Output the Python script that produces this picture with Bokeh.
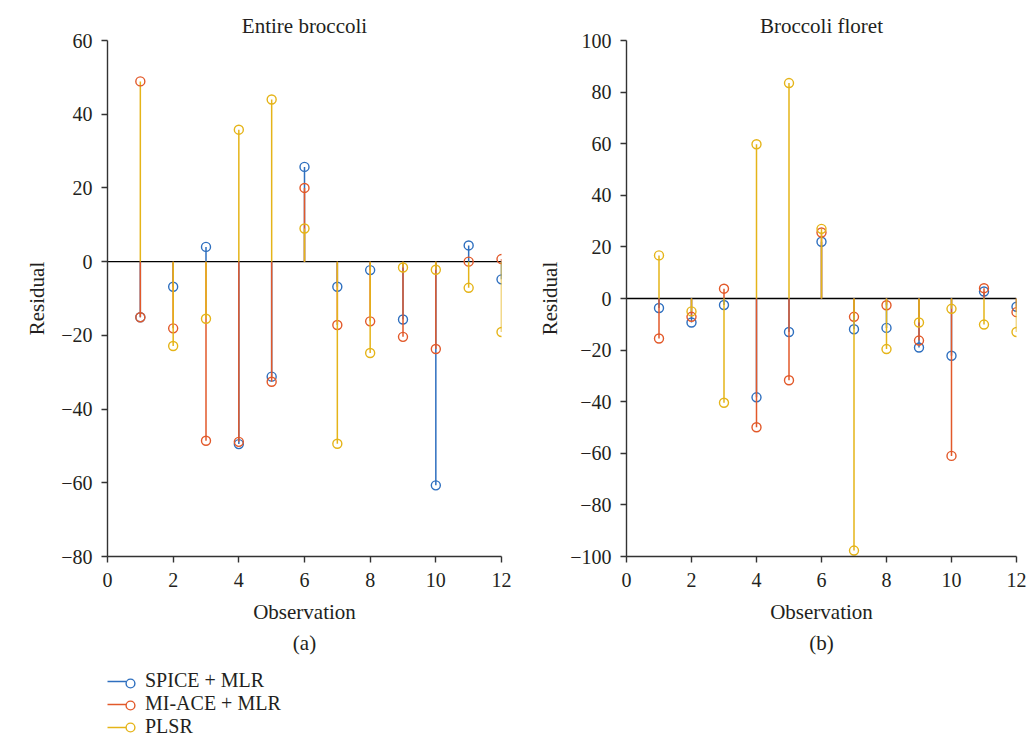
from bokeh.plotting import figure
from bokeh.layouts import row, column
from bokeh.models import Span, Legend, LegendItem, Title, FixedTicker, Range1d
from bokeh.embed import file_html
from bokeh.resources import INLINE

# ---------------- data ----------------
observations = [1, 2, 3, 4, 5, 6, 7, 8, 9, 10, 11, 12]
series_names = ["SPICE + MLR", "MI-ACE + MLR", "PLSR"]

# (a) Entire broccoli
a_spice = [-15.1, -6.8, 4.0, -49.5, -31.2, 25.7, -6.8, -2.3, -15.7, -60.7, 4.4, -4.8]
a_miace = [-15.1, -18.1, -48.6, -48.9, -32.6, 20.0, -17.2, -16.2, -20.4, -23.7, 0.0, 0.7]
a_plsr = [48.9, -22.9, -15.5, 35.8, 44.0, 9.0, -49.4, -24.8, -1.6, -2.2, -7.1, -19.1]

# (b) Broccoli floret
b_spice = [-3.7, -9.3, -2.5, -38.3, -13.0, 22.0, -11.9, -11.4, -19.0, -22.2, 2.7, -3.2]
b_miace = [-15.5, -7.1, 3.8, -49.9, -31.7, 25.6, -7.1, -2.6, -16.3, -61.0, 4.0, -5.3]
b_plsr = [16.7, -5.0, -40.4, 59.8, 83.5, 27.0, -97.7, -19.6, -9.3, -4.0, -10.1, -13.0]

x_ticks = [0, 2, 4, 6, 8, 10, 12]
a_y_ticks = [-80, -60, -40, -20, 0, 20, 40, 60]
b_y_ticks = [-100, -80, -60, -40, -20, 0, 20, 40, 60, 80, 100]

# ---------------- style ----------------
COLORS = ["#2E6FBF", "#E2592A", "#E5B418"]
# marker colour of the PLSR markers in panel (a) as drawn in the original
a_plsr_marker_colors = ["#E2592A"] + ["#E5B418"] * 11
FONT = "Liberation Serif"
TXT = "#231f20"


def minus(v):
    return str(v).replace("-", "\u2212")


def make_panel(title, values, ylo, yhi, yticks, sub, border_left, border_right, width,
               ylabel_standoff, marker_colors=None):
    p = figure(width=width, height=660, output_backend="svg", toolbar_location=None,
               x_range=Range1d(0, 12), y_range=Range1d(ylo, yhi),
               min_border_left=border_left, min_border_right=border_right,
               min_border_top=40, min_border_bottom=104)
    p.title.text = title
    p.title.align = "center"
    p.title.text_font = FONT
    p.title.text_font_size = "21px"
    p.title.text_font_style = "normal"
    p.title.text_color = TXT
    p.title.standoff = 6
    p.outline_line_color = None
    p.grid.visible = False

    for ax in (p.xaxis[0], p.yaxis[0]):
        ax.axis_line_color = "#333333"
        ax.axis_line_width = 1.4
        ax.major_tick_line_color = "#333333"
        ax.major_tick_line_width = 1.4
        ax.major_tick_out = 6
        ax.major_tick_in = 0
        ax.minor_tick_line_color = None
        ax.major_label_text_font = FONT
        ax.major_label_text_font_size = "20px"
        ax.major_label_text_color = TXT
        ax.axis_label_text_font = FONT
        ax.axis_label_text_font_size = "21px"
        ax.axis_label_text_font_style = "normal"
        ax.axis_label_text_color = TXT

    p.xaxis.ticker = FixedTicker(ticks=x_ticks)
    p.yaxis.ticker = FixedTicker(ticks=yticks)
    p.yaxis.major_label_overrides = {v: minus(v) for v in yticks}
    p.xaxis.axis_label = "Observation"
    p.yaxis.axis_label = "Residual"
    p.xaxis.major_label_standoff = 10
    p.yaxis.major_label_standoff = 9
    p.xaxis.axis_label_standoff = 10
    p.yaxis.axis_label_standoff = ylabel_standoff

    p.add_layout(Span(location=0, dimension="width", line_color="black",
                      line_width=1.4, level="underlay"))

    for i, vals in enumerate(values):
        p.segment(x0=observations, y0=[0] * len(vals), x1=observations, y1=vals,
                  line_color=COLORS[i], line_width=1.5)
        mcol = COLORS[i]
        if marker_colors is not None and i == 2:
            mcol = marker_colors
        p.scatter(x=observations, y=vals, marker="circle", size=9,
                  fill_color=None, line_color=mcol, line_width=1.4)

    sub_title = Title(text=sub, align="center", text_font=FONT, text_font_size="21px",
                      text_font_style="normal", text_color=TXT, standoff=4)
    p.add_layout(sub_title, "below")
    return p


pa = make_panel("Entire broccoli", [a_spice, a_miace, a_plsr], -80, 60, a_y_ticks, "(a)",
                107, 14, 515, 9, marker_colors=a_plsr_marker_colors)
pb = make_panel("Broccoli floret", [b_spice, b_miace, b_plsr], -100, 100, b_y_ticks, "(b)",
                111, 13, 514, 5)

# legend strip below the panels
lg = figure(width=1029, height=79, output_backend="svg", toolbar_location=None,
            x_axis_type=None, y_axis_type=None, x_range=Range1d(0, 1), y_range=Range1d(0, 1),
            min_border_left=107, min_border_right=0, min_border_top=0, min_border_bottom=0)
lg.outline_line_color = None
lg.grid.visible = False
line_items, mark_items = [], []
for i, name in enumerate(series_names):
    dline = lg.line(x=[-10, -9], y=[-10, -10], line_color=COLORS[i], line_width=1.5)
    dmark = lg.scatter(x=[-10], y=[-10], marker="circle", size=9,
                       fill_color=None, line_color=COLORS[i], line_width=1.4)
    line_items.append(LegendItem(label=name, renderers=[dline]))
    mark_items.append(LegendItem(label=" ", renderers=[dmark]))
common = dict(orientation="vertical", label_text_font=FONT, label_text_font_size="20px",
              label_text_color=TXT, border_line_color=None, background_fill_alpha=0,
              glyph_height=22, label_height=22, spacing=0, padding=0, margin=0)
legend_lines = Legend(items=line_items, location=(0, 1), glyph_width=19,
                      label_standoff=19, **common)
legend_marks = Legend(items=mark_items, location=(12, 1), glyph_width=22,
                      label_standoff=0, label_width=0, **common)
lg.add_layout(legend_lines, "center")
lg.add_layout(legend_marks, "center")

layout = column(row(pa, pb, spacing=0), lg, spacing=0)
open("out.html", "w").write(file_html(layout, INLINE))
